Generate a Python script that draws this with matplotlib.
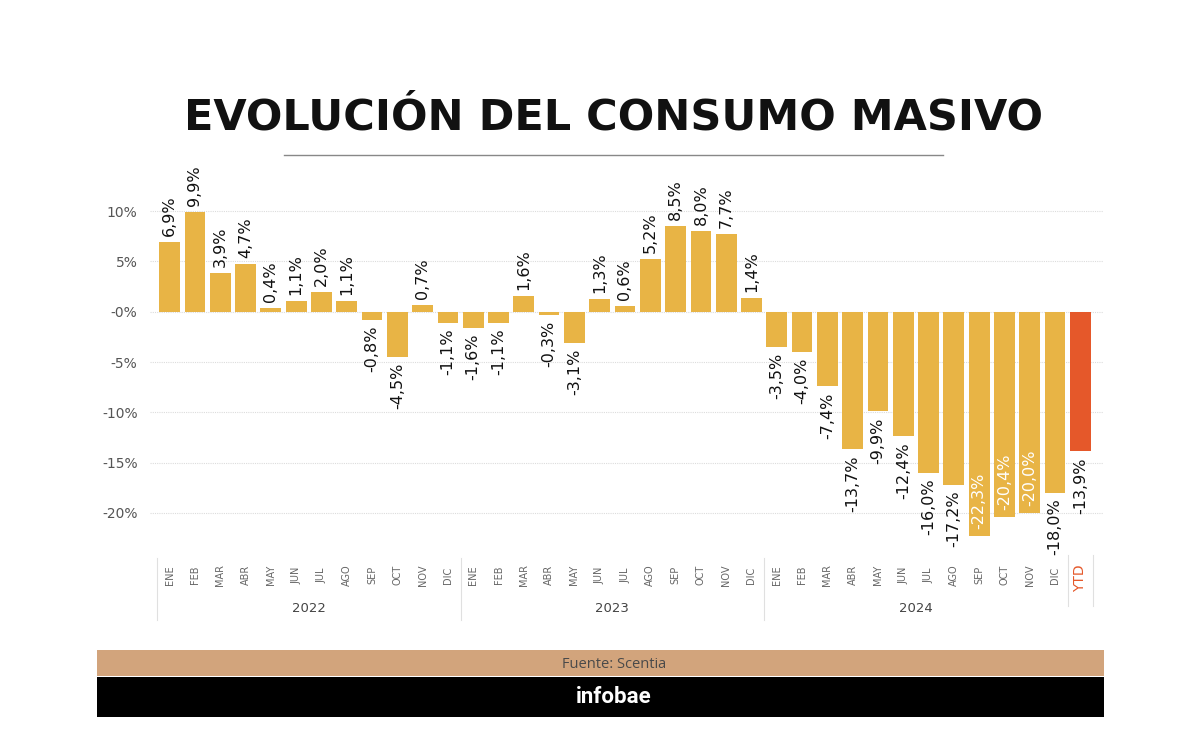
import matplotlib
matplotlib.use("Agg")
import matplotlib.pyplot as plt
from matplotlib.patches import Rectangle
from matplotlib.lines import Line2D
import matplotlib.transforms as mtransforms

months = ["ENE", "FEB", "MAR", "ABR", "MAY", "JUN", "JUL", "AGO", "SEP", "OCT", "NOV", "DIC"]
years = ["2022", "2023", "2024"]
values_2022 = [6.9, 9.9, 3.9, 4.7, 0.4, 1.1, 2.0, 1.1, -0.8, -4.5, 0.7, -1.1]
values_2023 = [-1.6, -1.1, 1.6, -0.3, -3.1, 1.3, 0.6, 5.2, 8.5, 8.0, 7.7, 1.4]
values_2024 = [-3.5, -4.0, -7.4, -13.7, -9.9, -12.4, -16.0, -17.2, -22.3, -20.4, -20.0, -18.0]
ytd_label = "YTD"
ytd_value = -13.9
yticks = [10, 5, 0, -5, -10, -15, -20]
ytick_labels = ["10%", "5%", "-0%", "-5%", "-10%", "-15%", "-20%"]
title = "EVOLUCIÓN DEL CONSUMO MASIVO"
source = "Fuente: Scentia"
brand = "infobae"

BAR = "#E8B445"
YTD = "#E5582A"
W, H = 1200, 743
fig = plt.figure(figsize=(12, 7.43), dpi=100)

def fx(px):
    return px / W

def fy(py):
    return 1 - py / H

ax_left, ax_right, ax_top, ax_bot = 157, 1093, 172, 545
ax = fig.add_axes([fx(ax_left), fy(ax_bot), (ax_right - ax_left) / W, (ax_bot - ax_top) / H])

vals = values_2022 + values_2023 + values_2024 + [ytd_value]
labels = months * 3 + [ytd_label]
n = len(vals)
xs = list(range(n))
colors = [BAR] * (n - 1) + [YTD]
ax.bar(xs, vals, width=0.82, color=colors, zorder=3)
ax.set_xlim(-0.5, n - 0.5)
ax.set_ylim(-23.2, 13.9)

for s in ax.spines.values():
    s.set_visible(False)
ax.set_xticks([])
ax.set_yticks(yticks)
ax.set_yticklabels(ytick_labels, fontsize=10, color="#555555", family="DejaVu Sans")
ax.tick_params(axis="y", length=0, pad=14)
for yv in yticks:
    ax.axhline(yv, xmin=-0.008, xmax=1.011, color="#dcdcdc", lw=0.8,
               ls=(0, (1, 1)), zorder=1, clip_on=False)

ppu = (ax_bot - ax_top) / (13.9 + 23.2)  # px per unit
for x, v in zip(xs, vals):
    txt = f"{v:.1f}%".replace(".", ",")
    if v >= 0:
        ax.text(x, v + 6 / ppu, txt, rotation=90, ha="center", va="bottom",
                fontsize=11.5, color="#111111", zorder=4)
    elif v <= -19.5:
        ax.text(x, v + 7 / ppu, txt, rotation=90, ha="center", va="bottom",
                fontsize=11.5, color="white", zorder=4)
    else:
        ax.text(x, v - 6 / ppu, txt, rotation=90, ha="center", va="top",
                fontsize=11.5, color="#111111", zorder=4)

trans = mtransforms.blended_transform_factory(ax.transData, ax.transAxes)
def ay(py):
    return (ax_bot - py) / (ax_bot - ax_top)

for x, lab in zip(xs, labels):
    if lab == ytd_label:
        ax.text(x, ay(578), lab, rotation=90, ha="center", va="center", fontsize=10,
                color=YTD, transform=trans, clip_on=False)
    else:
        ax.text(x, ay(575), lab, rotation=90, ha="center", va="center", fontsize=7,
                color="#666666", transform=trans, clip_on=False)

for i, yr in enumerate(years):
    ax.text(i * 12 + 5.5, ay(608), yr, ha="center", va="center", fontsize=9.5,
            color="#444444", transform=trans, clip_on=False)

for xb in [-0.5, 11.5, 23.5]:
    ax.add_line(Line2D([xb, xb], [ay(558), ay(620)], color="#e0e0e0", lw=0.8,
                       transform=trans, clip_on=False))
for xb in [n - 1.5, n - 0.5]:
    ax.add_line(Line2D([xb, xb], [ay(555), ay(606)], color="#e0e0e0", lw=0.8,
                       transform=trans, clip_on=False))

fig.text(fx(614), fy(118), title, ha="center", va="center", fontsize=31,
         fontweight="bold", color="#111111")
fig.add_artist(Line2D([fx(284), fx(943)], [fy(155), fy(155)], color="#888888", lw=1))

fig.add_artist(Rectangle((fx(97), fy(676)), fx(1104 - 97), (676 - 650) / H,
                         facecolor="#D2A47C", edgecolor="none"))
fig.add_artist(Rectangle((fx(97), fy(717)), fx(1104 - 97), (717 - 677) / H,
                         facecolor="black", edgecolor="none"))
fig.text(fx(614), fy(664), source, ha="center", va="center", fontsize=10.5,
         color="#4a4a4a", family="Open Sans")
fig.text(fx(614), fy(697), brand, ha="center", va="center", fontsize=16,
         color="white", fontweight="bold", family="Roboto")

fig.savefig("out.png", dpi=100)
